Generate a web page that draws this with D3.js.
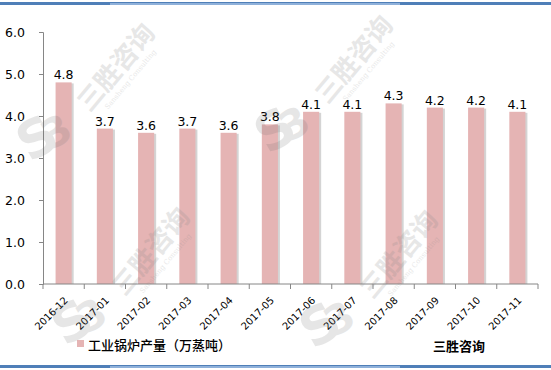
<!DOCTYPE html>
<html>
<head>
<meta charset="utf-8">
<script src="https://cdn.jsdelivr.net/npm/d3@7/dist/d3.min.js"></script>
<style>
  body { margin: 0; background: #fff; }
  svg { display: block; font-family: "DejaVu Sans", Verdana, "Noto Sans CJK SC", sans-serif; }
</style>
</head>
<body>
<script>
// monthly output
var months = ["2016-12", "2017-01", "2017-02", "2017-03", "2017-04", "2017-05",
              "2017-06", "2017-07", "2017-08", "2017-09", "2017-10", "2017-11"];
var output = [4.8, 3.7, 3.6, 3.7, 3.6, 3.8, 4.1, 4.1, 4.3, 4.2, 4.2, 4.1];
var yTicks = [0, 1, 2, 3, 4, 5, 6];
var seriesName = "工业锅炉产量（万蒸吨）";
var sourceName = "三胜咨询";

var W = 551, H = 370;
var margin = {top: 32, right: 13, bottom: 86, left: 43},
    w = W - margin.left - margin.right,
    h = H - margin.top - margin.bottom;

var svg = d3.select('body').append('svg')
    .attr('width', W)
    .attr('height', H);

// blue frame lines top and bottom
[2, 365].forEach(function (yy) {
  svg.append('rect').attr('x', 0).attr('y', yy).attr('width', W).attr('height', 3).attr('fill', '#4f7fb8');
  svg.append('rect').attr('x', 110).attr('y', yy + 1).attr('width', 290).attr('height', 2).attr('fill', '#8fb1da');
});

var g = svg.append('g')
    .attr('transform', 'translate(' + margin.left + ',' + margin.top + ')');

var x = d3.scaleBand().domain(months).range([0, w]).paddingInner(0.61).paddingOuter(0.305);
var y = d3.scaleLinear().domain([0, 6]).range([h, 0]);

// bars with a soft shadow on the right
g.selectAll('.shadow')
    .data(output)
    .enter().append('rect')
    .attr('class', 'shadow')
    .attr('x', function (d, i) { return x(months[i]) + 2; })
    .attr('y', function (d) { return y(d) + 1; })
    .attr('width', x.bandwidth())
    .attr('height', function (d) { return h - y(d) - 1; })
    .attr('fill', '#d4d4d4');

g.selectAll('.bar')
    .data(output)
    .enter().append('rect')
    .attr('class', 'bar')
    .attr('x', function (d, i) { return x(months[i]); })
    .attr('y', function (d) { return y(d); })
    .attr('width', x.bandwidth())
    .attr('height', function (d) { return h - y(d); })
    .attr('fill', '#e5b4b4');

// value labels
g.selectAll('.val')
    .data(output)
    .enter().append('text')
    .attr('class', 'val')
    .attr('x', function (d, i) { return x(months[i]) + x.bandwidth() / 2; })
    .attr('y', function (d) { return y(d) - 3; })
    .attr('text-anchor', 'middle')
    .style('font-size', '12.5px')
    .attr('fill', '#000')
    .text(function (d) { return d3.format('.1f')(d); });

// y axis
var yAxis = d3.axisLeft(y).tickValues(yTicks).tickFormat(d3.format('.1f')).tickSize(4).tickPadding(14);
var ya = g.append('g').call(yAxis);
ya.select('.domain').attr('stroke', '#868686');
ya.selectAll('line').attr('stroke', '#868686');
ya.selectAll('text').style('font-size', '12.5px').attr('fill', '#000')
  .style('font-family', '"DejaVu Sans", Verdana, sans-serif');

// x axis, ticks between categories
var xa = g.append('g').attr('transform', 'translate(0,' + h + ')');
xa.append('line').attr('x1', 0).attr('x2', w).attr('stroke', '#868686');
xa.selectAll('.tk')
    .data(d3.range(months.length + 1))
    .enter().append('line')
    .attr('x1', function (i) { return i * w / months.length; })
    .attr('x2', function (i) { return i * w / months.length; })
    .attr('y1', 0).attr('y2', 5)
    .attr('stroke', '#868686');
xa.selectAll('.lbl')
    .data(months)
    .enter().append('text')
    .attr('transform', function (d) {
      return 'translate(' + (x(d) + x.bandwidth() / 2 + 5) + ',17) rotate(-45)';
    })
    .attr('text-anchor', 'end')
    .style('font-size', '10px')
    .attr('fill', '#000')
    .text(function (d) { return d; });

// legend
svg.append('rect').attr('x', 77).attr('y', 340).attr('width', 7).attr('height', 7).attr('fill', '#e5b4b4');
svg.append('text').attr('x', 88).attr('y', 350)
    .style('font-family', '"Noto Sans CJK SC", sans-serif').style('font-size', '13px')
    .style('font-weight', '500').attr('fill', '#000').text(seriesName);
svg.append('text').attr('x', 433).attr('y', 351)
    .style('font-family', '"Noto Sans CJK SC", sans-serif').style('font-size', '13px')
    .style('font-weight', 'bold').attr('fill', '#000').text(sourceName);

// watermarks
var marks = [[117, 68], [355, 60], [152, 252], [400, 255]];
marks.forEach(function (m) {
  var logo = svg.append('g').attr('transform', 'translate(' + (m[0] - 80) + ',' + (m[1] + 70) + ') rotate(-30)')
      .attr('opacity', 0.16).attr('pointer-events', 'none');
  logo.append('text').attr('text-anchor', 'middle').attr('y', 18)
      .style('font-family', '"DejaVu Sans", sans-serif').style('font-size', '52px')
      .style('font-weight', 'bold').attr('fill', '#6a6a6a').text('S');
  logo.append('text').attr('text-anchor', 'middle').attr('x', 20).attr('y', 18)
      .style('font-family', '"DejaVu Sans", sans-serif').style('font-size', '40px')
      .style('font-weight', 'bold').attr('fill', '#6a6a6a').text('3');
  var wm = svg.append('g').attr('transform', 'translate(' + m[0] + ',' + m[1] + ') rotate(-50)')
      .attr('opacity', 0.2).attr('pointer-events', 'none');
  wm.append('text').attr('text-anchor', 'middle').attr('y', 8)
      .style('font-family', '"Noto Sans CJK SC", sans-serif').style('font-size', '26px')
      .style('font-weight', 'bold').attr('fill', '#8a8a8a').text(sourceName);
  wm.append('text').attr('text-anchor', 'middle').attr('y', 20)
      .style('font-family', '"DejaVu Serif", serif').style('font-size', '7px')
      .attr('fill', '#8a8a8a').text('Sansheng Consulting');
});
</script>
</body>
</html>
